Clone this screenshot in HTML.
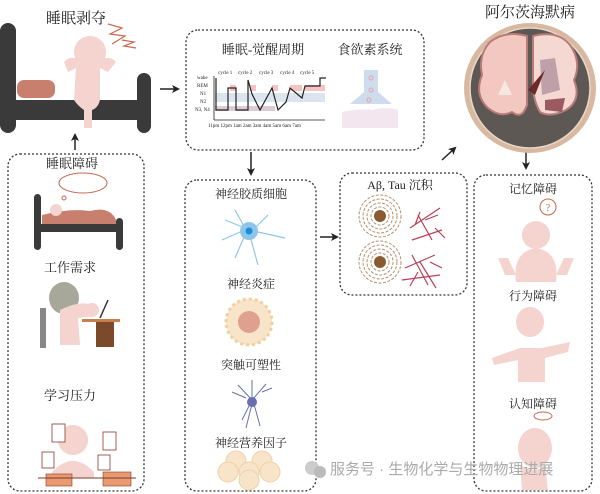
<!DOCTYPE html>
<html><head><meta charset="utf-8"><style>
html,body{margin:0;padding:0;background:#fff;}
svg{display:block;font-family:"Liberation Serif","Noto Serif CJK SC","Noto Sans CJK SC",serif;}
</style></head><body>
<svg width="600" height="494" viewBox="0 0 600 494" xmlns="http://www.w3.org/2000/svg">
<defs>
<marker id="ar" markerWidth="8" markerHeight="8" refX="6" refY="4" orient="auto" markerUnits="userSpaceOnUse"><path d="M0,0 L8,4 L0,8 L2,4z" fill="#222"/></marker>
</defs>
<g fill="none" stroke="#333" stroke-width="1.3" stroke-dasharray="2,2">
<rect x="8" y="154" width="136" height="337" rx="12"/>
<rect x="186" y="30" width="238" height="120" rx="12"/>
<rect x="185" y="180" width="131" height="311" rx="12"/>
<rect x="340" y="173" width="127" height="122" rx="12"/>
<rect x="474" y="175" width="118" height="316" rx="12"/>
</g>
<g stroke="#222" stroke-width="1.5" fill="none">
<line x1="75" y1="150" x2="75" y2="135" marker-end="url(#ar)"/>
<line x1="160" y1="89" x2="178" y2="89" marker-end="url(#ar)"/>
<line x1="251" y1="152" x2="251" y2="174" marker-end="url(#ar)"/>
<line x1="320" y1="237" x2="337" y2="237" marker-end="url(#ar)"/>
<line x1="442" y1="160" x2="455" y2="148" marker-end="url(#ar)"/>
<line x1="526" y1="150" x2="526" y2="168" marker-end="url(#ar)"/>
</g>
<!-- big bed -->
<g fill="#3a3a3a">
<rect x="0" y="23" width="16" height="110" rx="8"/>
<rect x="137" y="73" width="14" height="60" rx="7"/>
<rect x="0" y="100" width="151" height="20"/>
</g>
<rect x="17" y="80" width="38" height="18" rx="7" fill="#c97f6d"/>
<g fill="#f5d3cf">
<circle cx="90" cy="52" r="16"/>
<path d="M64,62 Q70,55 80,60 L100,60 Q110,55 116,62 L108,72 L100,68 L100,100 Q98,108 92,110 L92,128 L84,128 L84,110 Q78,106 74,100 L76,68 L68,72z"/>
</g>
<path d="M108,24 L122,28 L110,34 L125,36 L112,44 M122,40 L134,42 L124,46 L136,48" fill="none" stroke="#c8694f" stroke-width="1.2"/>
<text x="76" y="23" font-size="15" text-anchor="middle" fill="#222">睡眠剥夺</text>
<!-- left box -->
<text x="72" y="168" font-size="13" text-anchor="middle" fill="#222">睡眠障碍</text>
<ellipse cx="83" cy="183" rx="24" ry="10" fill="#fff" stroke="#c8694f" stroke-width="1"/>
<circle cx="64" cy="198" r="2" fill="none" stroke="#c8694f"/>
<g fill="#3a3a3a"><rect x="34" y="194" width="7" height="56" rx="3.5"/><rect x="116" y="218" width="7" height="32" rx="3.5"/><rect x="34" y="224" width="89" height="8"/></g>
<path d="M42,224 L42,215 Q70,208 90,211 Q110,206 116,220 L116,224z" fill="#c97f6d"/>
<circle cx="56" cy="210" r="6" fill="#f5d3cf"/>
<text x="70" y="272" font-size="13" text-anchor="middle" fill="#222">工作需求</text>
<ellipse cx="64" cy="298" rx="15" ry="16" fill="#a8a89a"/>
<path d="M60,310 Q80,300 92,305 L96,316 L78,318 L80,345 L60,345z" fill="#f5d3cf"/>
<circle cx="92" cy="310" r="7" fill="#f5d3cf"/>
<rect x="40" y="308" width="6" height="40" fill="#888"/>
<rect x="82" y="319" width="38" height="3" fill="#c97f4d"/>
<rect x="96" y="322" width="18" height="25" fill="#7a4a2a"/>
<line x1="100" y1="318" x2="108" y2="300" stroke="#333" stroke-width="1.5"/>
<text x="70" y="400" font-size="13" text-anchor="middle" fill="#222">学习压力</text>
<circle cx="73" cy="440" r="15" fill="#f5d3cf"/>
<path d="M52,472 Q73,450 94,472 L94,478 L52,478z" fill="#f5d3cf"/>
<g fill="#fff" stroke="#8a3a2a" stroke-width="0.8"><rect x="52" y="424" width="13" height="18"/><rect x="103" y="432" width="13" height="18"/><rect x="42" y="452" width="12" height="16"/><rect x="98" y="455" width="12" height="15"/></g>
<g fill="#e89a70" stroke="#8a3a2a" stroke-width="0.6"><rect x="46" y="474" width="26" height="12"/><rect x="103" y="472" width="28" height="14"/></g>
<line x1="38" y1="478" x2="136" y2="478" stroke="#7a3a2a"/>
<!-- top box -->
<text x="263" y="54" font-size="13" text-anchor="middle" fill="#222">睡眠-觉醒周期</text>
<text x="370" y="54" font-size="13" text-anchor="middle" fill="#222">食欲素系统</text>
<g font-size="5" fill="#222">
<text x="197" y="79">wake</text><text x="197" y="87">REM</text><text x="200" y="95">N1</text><text x="200" y="103">N2</text><text x="195" y="111">N3, N4</text>
<text x="218" y="74">cycle 1</text><text x="238" y="74">cycle 2</text><text x="259" y="74">cycle 3</text><text x="280" y="74">cycle 4</text><text x="300" y="74">cycle 5</text>
<text x="208" y="127">11pm 12pm 1am  2am  3am  4am  5am  6am  7am</text>
</g>
<g opacity="0.5"><rect x="230" y="85" width="6" height="6" fill="#e88"/><rect x="250" y="85" width="6" height="6" fill="#e88"/><rect x="272" y="85" width="6" height="6" fill="#e88"/><rect x="290" y="85" width="12" height="6" fill="#e88"/><rect x="305" y="85" width="20" height="6" fill="#e88"/>
<rect x="215" y="93" width="110" height="9" fill="#bcd"/><rect x="215" y="106" width="60" height="5" fill="#b9a"/></g>
<path d="M216,78 L216,110 L228,110 L228,88 L236,88 L236,110 L248,110 L248,80 L252,94 L260,110 L272,88 L278,110 L286,102 L290,88 L302,98 L305,86 L320,86 L320,78 L326,78" fill="none" stroke="#222" stroke-width="1.2"/>
<line x1="214" y1="76" x2="214" y2="120" stroke="#222" stroke-width="0.8"/><line x1="214" y1="120" x2="325" y2="120" stroke="#222" stroke-width="0.8"/>
<path d="M364,70 L378,70 L378,92 L392,104 L350,104 L364,92z" fill="#cfdcee"/>
<g fill="none" stroke="#e4a5a5"><circle cx="371" cy="78" r="2"/><circle cx="371" cy="90" r="2"/><circle cx="369" cy="100" r="2"/></g>
<path d="M342,112 Q360,108 372,110 Q388,106 398,110 L398,128 L342,128z" fill="#f4e6ee"/>
<!-- brain -->
<text x="530" y="17" font-size="15" text-anchor="middle" fill="#222">阿尔茨海默病</text>
<ellipse cx="530" cy="88" rx="66" ry="65" fill="#d8b8a0"/>
<ellipse cx="530" cy="88" rx="60" ry="60" fill="#5e5855" stroke="#e8d8c8" stroke-width="1.5"/>
<path d="M527,36 Q505,30 490,42 Q478,55 482,75 Q474,95 488,108 Q500,118 512,112 Q522,120 527,105z" fill="#f2c8c0" stroke="#b97a7a" stroke-width="2"/>
<path d="M533,36 Q558,30 570,45 Q582,62 574,80 Q582,100 566,110 Q550,118 540,112 Q533,100 533,85z" fill="#f5d8d2" stroke="#b97a7a" stroke-width="2"/>
<path d="M540,60 L555,58 L560,90 L542,95z" fill="#c0a0a8"/>
<path d="M505,80 L512,95 L498,95z" fill="#f8e8e2"/>
<path d="M545,100 L565,98 L562,112 L545,110z" fill="#9a5a60"/>
<path d="M528,90 L545,70 L535,95z" fill="#6a2a2a"/>
<!-- middle box -->
<text x="251" y="198" font-size="12" text-anchor="middle" fill="#222">神经胶质细胞</text>
<g stroke="#8ec6ea" stroke-width="1.2" fill="none"><path d="M225,220 L245,228 M245,228 L235,210 M255,228 L268,215 M258,232 L285,238 M245,235 L235,258 M250,236 L258,265 M240,232 L222,240"/></g>
<circle cx="249" cy="231" r="9" fill="#8ec6ea"/><circle cx="249" cy="231" r="3.5" fill="#1a8ed8"/>
<text x="251" y="288" font-size="12" text-anchor="middle" fill="#222">神经炎症</text>
<circle cx="249" cy="322" r="23" fill="#f8e4c8" stroke="#f0d0a0" stroke-width="3" stroke-dasharray="3,3"/>
<circle cx="249" cy="322" r="11" fill="#e0a090"/>
<text x="251" y="369" font-size="12" text-anchor="middle" fill="#222">突触可塑性</text>
<g stroke="#6670b0" stroke-width="1" fill="none"><path d="M252,380 L252,400 M238,385 L252,400 L266,384 M232,392 L246,398 M262,392 L272,388 M252,404 L246,428 M254,404 L260,426 M250,404 L242,420"/></g>
<circle cx="252" cy="402" r="5" fill="#6670b0"/>
<text x="251" y="447" font-size="12" text-anchor="middle" fill="#222">神经营养因子</text>
<g fill="#f8e4c8" stroke="#f0d0a8" stroke-width="1"><circle cx="236" cy="461" r="10"/><circle cx="262" cy="461" r="10"/><circle cx="228" cy="472" r="10"/><circle cx="249" cy="472" r="10"/><circle cx="270" cy="472" r="10"/><circle cx="249" cy="480" r="10"/></g>
<!-- Abeta box -->
<text x="400" y="189" font-size="12" text-anchor="middle" fill="#222">Aβ, Tau  沉积</text>
<g fill="none" stroke="#b89070" stroke-width="1" stroke-dasharray="3,1.5">
<circle cx="380" cy="216" r="21"/><circle cx="380" cy="216" r="17"/><circle cx="380" cy="216" r="13"/><circle cx="380" cy="216" r="9"/>
<circle cx="380" cy="262" r="21"/><circle cx="380" cy="262" r="17"/><circle cx="380" cy="262" r="13"/><circle cx="380" cy="262" r="9"/>
</g>
<circle cx="380" cy="216" r="6" fill="#8a5a30"/><circle cx="380" cy="262" r="6" fill="#8a5a30"/>
<g stroke="#b8405a" stroke-width="1.2" fill="none"><path d="M410,228 L440,208 M418,215 L432,240 M412,240 L442,230 M425,220 L438,215 M420,212 L415,225 M435,228 L445,238"/><path d="M405,268 L435,255 M412,255 L428,285 M402,280 L440,275 M420,262 L436,288 M430,262 L442,268 M410,286 L418,272"/></g>
<!-- right box -->
<text x="533" y="193" font-size="12" text-anchor="middle" fill="#222">记忆障碍</text>
<circle cx="548" cy="207" r="8" fill="#fff" stroke="#c8694f"/><text x="548" y="211" font-size="10" text-anchor="middle" fill="#c8694f">?</text>
<circle cx="536" cy="235" r="14" fill="#f5d3cf"/>
<path d="M516,282 Q512,252 536,248 Q560,252 556,282z M498,258 L508,258 L516,275 L505,275z M574,258 L564,258 L556,275 L567,275z" fill="#f5d3cf"/>
<text x="533" y="300" font-size="12" text-anchor="middle" fill="#222">行为障碍</text>
<ellipse cx="530" cy="322" rx="14" ry="15" fill="#f5d3cf"/>
<path d="M492,358 L520,348 L542,348 L570,342 L568,352 L545,358 L545,382 L518,382 L518,360 L494,365z" fill="#f5d3cf"/>
<text x="533" y="408" font-size="12" text-anchor="middle" fill="#222">认知障碍</text>
<ellipse cx="543" cy="416" rx="9" ry="4" fill="none" stroke="#c8694f"/>
<ellipse cx="535" cy="448" rx="17" ry="20" fill="#f5d3cf"/>
<path d="M520,465 Q535,475 545,465 L548,490 L522,490z" fill="#f5d3cf"/>
<!-- watermark -->
<circle cx="312" cy="468" r="7" fill="#ccc"/><circle cx="320" cy="472" r="6" fill="#bbb"/>
<text x="330" y="474" font-size="15" fill="#aaa" font-family="Liberation Sans,Noto Sans CJK SC,sans-serif">服务号 · 生物化学与生物物理进展</text>
</svg>
</body></html>
